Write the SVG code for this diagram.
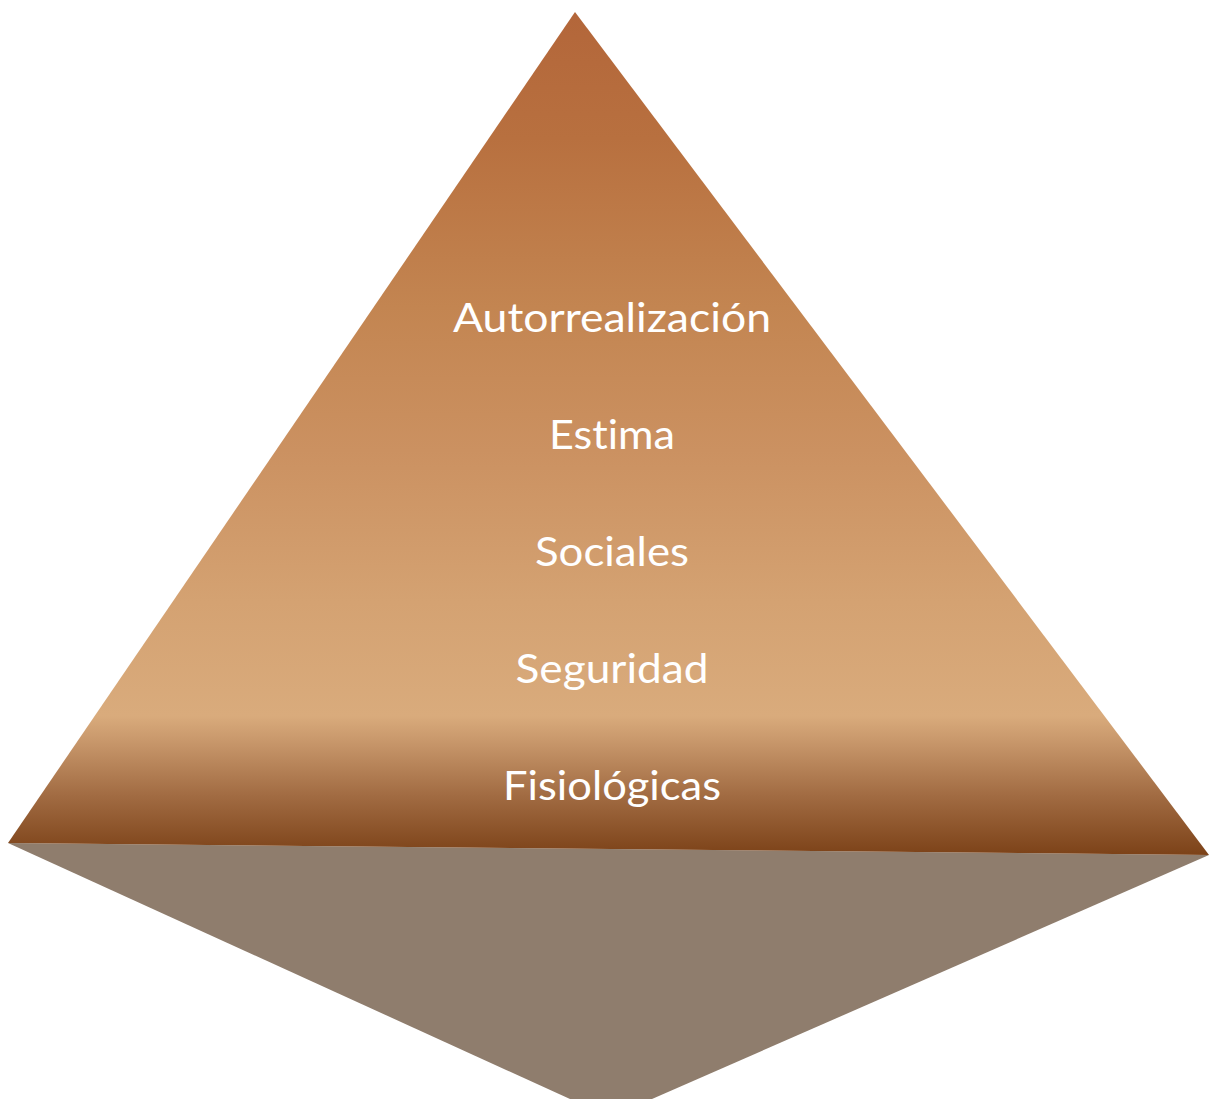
<svg xmlns="http://www.w3.org/2000/svg" width="1209" height="1100" viewBox="0 0 1209 1100">
<defs>
<linearGradient id="pyr" gradientUnits="userSpaceOnUse" x1="0" y1="12" x2="0" y2="855">
<stop offset="0" stop-color="#b3663a"/>
<stop offset="0.15" stop-color="#b8703f"/>
<stop offset="0.35" stop-color="#c38551"/>
<stop offset="0.52" stop-color="#cb9161"/>
<stop offset="0.7" stop-color="#d4a272"/>
<stop offset="0.835" stop-color="#d9ab7c"/>
<stop offset="0.87" stop-color="#c59468"/>
<stop offset="0.93" stop-color="#a16b42"/>
<stop offset="1" stop-color="#7c4218"/>
</linearGradient>
<style>
.lbl{font-family:"Lato","Open Sans","Liberation Sans",sans-serif;font-size:41px;fill:#ffffff;text-anchor:middle;font-variant-ligatures:none;font-feature-settings:"liga" 0}
</style>
</defs>
<g id="shadow">
<polygon points="8,843 1209,855 652,1099 570,1099" fill="#8f7d6d"/>
</g>
<g id="pyramid">
<polygon points="575,12 8,843 1209,855" fill="url(#pyr)"/>
</g>
<g id="labels">
<g id="level5"><text class="lbl" x="612" y="332" textLength="318" lengthAdjust="spacingAndGlyphs">Autorrealización</text></g>
<g id="level4"><text class="lbl" x="612" y="449" textLength="126" lengthAdjust="spacingAndGlyphs">Estima</text></g>
<g id="level3"><text class="lbl" x="612" y="566" textLength="154" lengthAdjust="spacingAndGlyphs">Sociales</text></g>
<g id="level2"><text class="lbl" x="612" y="683" textLength="193" lengthAdjust="spacingAndGlyphs">Seguridad</text></g>
<g id="level1"><text class="lbl" x="612" y="800" textLength="218" lengthAdjust="spacingAndGlyphs">Fisiológicas</text></g>
</g>
</svg>
